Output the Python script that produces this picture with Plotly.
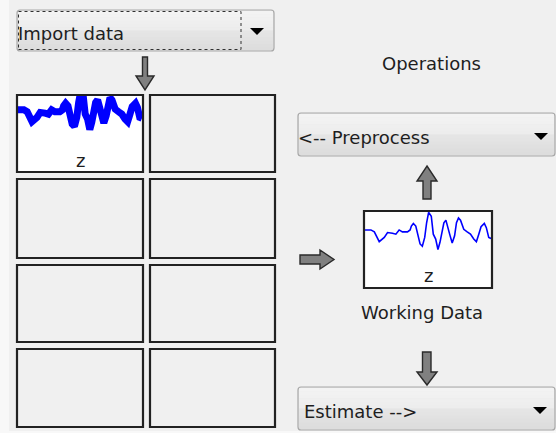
import plotly.graph_objects as go

# ---- data ----
signal_t = [0, 4.7, 7.4, 11.3, 15.3, 17.9, 21.8, 24.5, 27.1, 29.7, 33.7, 35.8, 36.8, 38.4,
            40.3, 41.6, 43.7, 45.5, 47.4, 48.9, 50.5, 52.6, 54.2, 56.1, 57.9, 59.5, 61.3,
            62.6, 64.2, 65.8, 67.4, 69.2, 71.1, 72.6, 74.2, 75.8, 78.4, 81.1, 83.7, 86.3,
            88.4, 90.3, 92.1, 94.7, 96.3, 98.2, 100]
signal_v = [0.3, 0.3, -0.3, -3.3, -2.0, -0.5, -0.7, -1.0, 0.3, -0.3, -0.3, 0.3, 1.5, 2.3,
            1.5, -0.7, -4.0, -4.7, -2.0, 2.5, 5.7, 4.5, -1.0, -2.5, -5.7, -3.5, 0.5,
            2.5, 3.3, 0.5, -1.3, -3.7, -1.5, 2.5, 4.0, 3.3, 0.5, -0.3, -1.0, -2.5,
            -3.3, -1.0, 1.3, 2.3, 1.0, -2.0, -2.3]
menu_labels = ["Import data", "<-- Preprocess", "Estimate -->"]
panel_labels = ["Operations", "Working Data"]
data_name = "z"

W, H = 556, 433
FONT = "DejaVu Sans"
TXT = "#1e1e1e"

def X(px):
    return px / W

def Y(py):
    return 1 - py / H

def P(px, py):
    return f"{X(px):.5f},{Y(py):.5f}"

fig = go.Figure()

def dom(x0, x1, y0, y1):
    return [X(x0), X(x1)], [Y(y1), Y(y0)]

dx2, dy2 = dom(18, 142, 96, 171)
dx3, dy3 = dom(365, 491, 212, 287)

fig.add_trace(go.Scatter(x=signal_t, y=signal_v, mode="lines", xaxis="x2", yaxis="y2",
                         line=dict(color="#0000ff", width=7), hoverinfo="skip"))
fig.add_trace(go.Scatter(x=signal_t, y=signal_v, mode="lines", xaxis="x3", yaxis="y3",
                         line=dict(color="#0000ff", width=1.6), hoverinfo="skip"))

shapes = []
annotations = []

def rect(x0, y0, x1, y1, **kw):
    d = dict(type="rect", xref="paper", yref="paper", x0=X(x0), x1=X(x1), y0=Y(y1), y1=Y(y0))
    d.update(kw)
    shapes.append(d)

def path(pts_str, **kw):
    d = dict(type="path", xref="paper", yref="paper", path=pts_str)
    d.update(kw)
    shapes.append(d)

def poly(points):
    return "M" + " L".join(P(a, b) for a, b in points) + " Z"

def rrect(x0, y0, x1, y1, r):
    return (f"M{P(x0+r,y0)} L{P(x1-r,y0)} Q{P(x1,y0)} {P(x1,y0+r)} L{P(x1,y1-r)} "
            f"Q{P(x1,y1)} {P(x1-r,y1)} L{P(x0+r,y1)} Q{P(x0,y1)} {P(x0,y1-r)} "
            f"L{P(x0,y0+r)} Q{P(x0,y0)} {P(x0+r,y0)} Z")

def text(x, y, s, xanchor="center"):
    annotations.append(dict(xref="paper", yref="paper", x=X(x), y=Y(y), text=s,
                            showarrow=False, xanchor=xanchor, yanchor="middle",
                            font=dict(family=FONT, size=18, color=TXT)))

# main background (lighter strip at left & bottom)
rect(9, 0, W, 431, fillcolor="#f0f0f0", line=dict(width=0), layer="below")

def grad_color(f):
    # light top -> slightly darker bottom, with a soft step at the middle
    top, mid_a, mid_b, bot = 0xf4, 0xec, 0xe6, 0xdc
    if f < 0.5:
        v = top + (mid_a - top) * (f / 0.5)
    else:
        v = mid_b + (bot - mid_b) * ((f - 0.5) / 0.5)
    v = int(round(v))
    return f"#{v:02x}{v:02x}{v:02x}"

def dropdown(x0, y0, x1, y1, label, tx, ax, ay, focus=False):
    ym = (y0 + y1) / 2
    path(rrect(x0, y0, x1, y1, 3), fillcolor="#e6e6e6", line=dict(width=0), layer="below")
    n = 12
    h = (y1 - y0 - 2) / n
    for i in range(n):
        rect(x0 + 1, y0 + 1 + i * h, x1 - 1, y0 + 1 + (i + 1) * h + 0.3,
             fillcolor=grad_color((i + 0.5) / n), line=dict(width=0), layer="below")
    path(rrect(x0, y0, x1, y1, 3), line=dict(color="#a8a8a8", width=1.2))
    if focus:
        rect(x0 + 1.5, y0 + 1.5, ax - 16, y1 - 1.5,
             line=dict(color="#303030", width=1, dash="dot"))
    path(poly([(ax - 7, ay - 3.5), (ax + 7, ay - 3.5), (ax, ay + 3.5)]),
         fillcolor="#000000", line=dict(width=0))
    text(tx, ym + 2.5, label, xanchor="left")

dropdown(17, 10, 274, 51, menu_labels[0], 16, 257, 31.5, focus=True)
dropdown(298, 113, 555, 156, menu_labels[1], 296, 541, 136.5)
dropdown(298, 387, 555, 430, menu_labels[2], 302, 540, 410.5)

# data boxes grid
cols = [(17, 143), (150, 275)]
rows = [(95, 172), (179, 258), (265, 342), (349, 427)]
for ri, (y0, y1) in enumerate(rows):
    for ci, (x0, x1) in enumerate(cols):
        filled = (ri == 0 and ci == 0)
        rect(x0, y0, x1, y1, fillcolor="#ffffff" if filled else "#f0f0f0",
             line=dict(width=0), layer="below")
        rect(x0, y0, x1, y1, line=dict(color="#222222", width=2.2))
text(80, 160, data_name)

# working data box
rect(364, 211, 492, 288, fillcolor="#ffffff", line=dict(width=0), layer="below")
rect(364, 211, 492, 288, line=dict(color="#222222", width=2.2))
text(428, 275, data_name)

text(431, 63, panel_labels[0])
text(422, 312, panel_labels[1])

# arrows
arrow_style = dict(fillcolor="#808080", line=dict(color="#2a2a2a", width=1.4))
arrows = [
    [(142.5, 57), (147.5, 57), (147.5, 76), (154, 76), (145, 90), (136, 76), (142.5, 76)],
    [(427, 166), (437, 181), (431, 181), (431, 199), (423, 199), (423, 181), (417, 181)],
    [(300, 255), (320, 255), (320, 250), (334, 259.5), (320, 269), (320, 264), (300, 264)],
    [(422.5, 352), (431, 352), (431, 372), (437, 372), (427, 385), (417, 372), (422.5, 372)],
]
for pts in arrows:
    path(poly(pts), **arrow_style)

hidden = dict(visible=False, showgrid=False, zeroline=False, fixedrange=True)
fig.update_layout(
    width=W, height=H, margin=dict(l=0, r=0, t=0, b=0, pad=0),
    paper_bgcolor="#f8f8f8", plot_bgcolor="rgba(0,0,0,0)",
    showlegend=False,
    xaxis2=dict(range=[0, 100], domain=dx2, anchor="y2", **hidden),
    yaxis2=dict(range=[-18.3, 4.5], domain=dy2, anchor="x2", **hidden),
    xaxis3=dict(range=[0, 100], domain=dx3, anchor="y3", **hidden),
    yaxis3=dict(range=[-17.2, 5.8], domain=dy3, anchor="x3", **hidden),
    shapes=shapes, annotations=annotations,
)
fig.write_html("out.html", config=dict(displayModeBar=False),
               post_script="document.body.style.margin='0px';")
